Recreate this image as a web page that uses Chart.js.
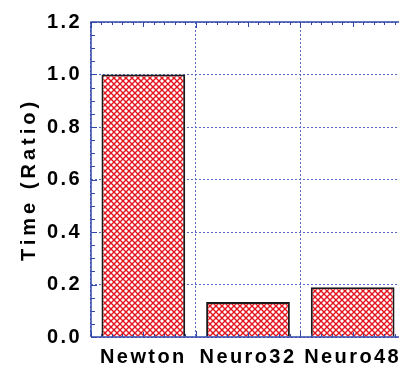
<!DOCTYPE html>
<html>
<head>
<meta charset="utf-8">
<script src="https://cdn.jsdelivr.net/npm/chart.js@4"></script>
<style>
  html, body { margin: 0; padding: 0; background: #fff; overflow: hidden; }
  .chart-wrapper { width: 405px; height: 366px; }
</style>
</head>
<body>
<div class="chart-wrapper"><canvas id="barChart"></canvas></div>
<script>
// Categories along the x-axis
const methods = ["Newton", "Neuro32", "Neuro48"];
// Time relative to Newton
const timeRatio = [1.0, 0.133, 0.19];
// Y axis range
const yMin = 0;
const yMax = 1.2;
const yStep = 0.2;
const yMinorStep = 0.05;

const blue = "#3348a8";
const font = "'Liberation Sans', Arial, sans-serif";

// red cross hatch fill
function hatch() {
  const c = document.createElement("canvas");
  c.width = 6;
  c.height = 6;
  const g = c.getContext("2d");
  g.fillStyle = "#fff";
  g.fillRect(0, 0, 6, 6);
  g.strokeStyle = "#e3141e";
  g.lineWidth = 1.4;
  g.beginPath();
  g.moveTo(-1, -1); g.lineTo(7, 7);
  g.moveTo(7, -1); g.lineTo(-1, 7);
  g.stroke();
  return g.createPattern(c, "repeat");
}

// letter spacing for the bold labels
const spacing = {
  id: "spacing",
  beforeDraw(chart) { chart.ctx.letterSpacing = "2.4px"; },
  afterDraw(chart) { chart.ctx.letterSpacing = "0px"; },
};

// wider spacing for the axis title
function spaceTitle(scale) {
  if (scale._spaced) return;
  scale._spaced = true;
  const orig = scale.drawTitle.bind(scale);
  scale.drawTitle = (...args) => {
    const c = scale.ctx;
    c.save();
    c.letterSpacing = "4px";
    orig(...args);
    c.restore();
  };
}

// small inward ticks on the frame
const minorTicks = {
  id: "minorTicks",
  afterDatasetsDraw(chart) {
    const { ctx, chartArea: a, scales } = chart;
    const y = scales.y, x = scales.x;
    ctx.save();
    ctx.strokeStyle = blue;
    ctx.lineWidth = 1;
    ctx.beginPath();
    for (let v = yMin; v <= yMax + 1e-9; v += yMinorStep) {
      const py = Math.round(y.getPixelForValue(v)) + 0.5;
      const major = Math.abs(v / yStep - Math.round(v / yStep)) < 1e-6;
      const len = major ? 6 : 4;
      ctx.moveTo(a.left, py); ctx.lineTo(a.left + len, py);
    }
    const w = x.getPixelForValue(1) - x.getPixelForValue(0);
    for (let i = 0; i <= methods.length * 10; i++) {
      const px = Math.round(x.getPixelForValue(0) - w / 2 + (i * w) / 10) + 0.5;
      const len = i % 10 === 0 ? 6 : (i % 5 === 0 ? 5 : 3);
      ctx.moveTo(px, a.top); ctx.lineTo(px, a.top + len);
      ctx.moveTo(px, a.bottom); ctx.lineTo(px, a.bottom - len);
    }
    ctx.stroke();
    ctx.lineWidth = 1.5;
    ctx.beginPath();
    ctx.moveTo(a.left, a.bottom); ctx.lineTo(a.left, a.top); ctx.lineTo(a.right, a.top);
    ctx.moveTo(a.left, a.bottom); ctx.lineTo(a.right, a.bottom);
    ctx.stroke();
    ctx.restore();
  },
};

const ctx = document.getElementById("barChart");
new Chart(ctx, {
  type: "bar",
  data: {
    labels: methods,
    datasets: [
      {
        data: timeRatio,
        backgroundColor: hatch(),
        borderColor: "#1a1a1a",
        borderWidth: 2,
        borderSkipped: "bottom",
        categoryPercentage: 0.8,
        barPercentage: 1.0,
      },
    ],
  },
  options: {
    responsive: true,
    maintainAspectRatio: false,
    animation: false,
    layout: { padding: { top: 22, right: 0, left: 0, bottom: 0 } },
    plugins: { legend: { display: false }, tooltip: { enabled: false } },
    scales: {
      x: {
        grid: { offset: true, color: "#5a6cc0", lineWidth: 1, drawTicks: false },
        border: { display: false, dash: [2, 2] },
        ticks: {
          color: "#000",
          padding: 8,
          font: { family: font, size: 20, weight: "bold" },
        },
        afterFit(scale) { scale.height = 29; },
      },
      y: {
        min: yMin,
        max: yMax,
        grid: { color: "#5a6cc0", lineWidth: 1, drawTicks: false },
        border: { display: false, dash: [2, 2] },
        ticks: {
          stepSize: yStep,
          color: "#000",
          padding: 9,
          callback: (v) => v.toFixed(1),
          font: { family: font, size: 20, weight: "bold" },
        },
        title: {
          display: true,
          text: "Time (Ratio)",
          color: "#000",
          padding: { top: 17, bottom: 0 },
          font: { family: font, size: 20, weight: "bold" },
        },
        afterFit(scale) { scale.width = 91; spaceTitle(scale); },
      },
    },
  },
  plugins: [spacing, minorTicks],
});
</script>
</body>
</html>
